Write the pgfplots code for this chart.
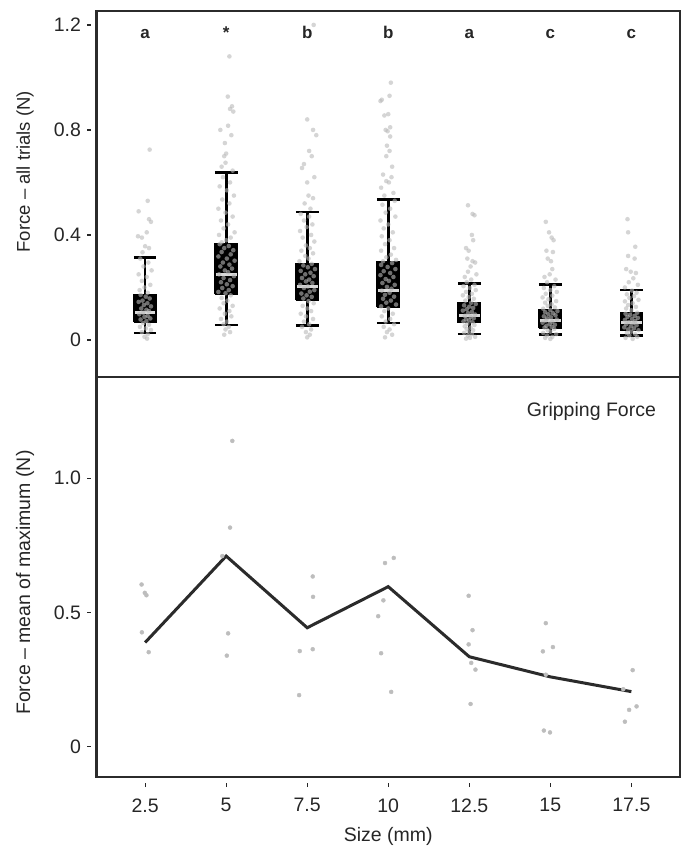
\documentclass[border=0pt]{standalone}
\usepackage{fontspec}
\setmainfont{Liberation Sans}
\usepackage{pgfplots}
\pgfplotsset{compat=1.18}
\definecolor{frame}{HTML}{2B2B2B}
\definecolor{txt}{HTML}{262626}
\definecolor{ptc}{HTML}{BDBDBD}
\definecolor{jit}{HTML}{B9B9B9}
\definecolor{med}{HTML}{D9D9D9}
\newcommand\fs{\fontsize{19.5}{23}\selectfont}
\newcommand\fb{\bfseries\fontsize{17}{20}\selectfont}

\pgfplotsset{
  common/.style={
    scale only axis, width=583.5pt,
    xmin=1, xmax=19,
    axis line style={frame, line width=2.8pt},
    tick align=outside, major tick length=4pt,
    ytick pos=left,
    y tick style={draw=txt, line width=1.2pt, xshift=-5.5pt},
    x tick style={draw=txt, line width=1.2pt, yshift=-6pt},
    yticklabel style={font=\fs, text=txt, xshift=-8pt},
    xticklabel style={font=\fs, text=txt, yshift=-14pt},
    ylabel style={font=\fs, text=txt, anchor=center},
    xlabel style={font=\fs, text=txt},
    unbounded coords=jump,
  },
  wsk/.style={draw=black, line width=2.7pt, mark=none},
  bxs/.style={draw=black, fill=black, line width=1pt, mark=none},
  mdn/.style={draw=med, line width=3pt, mark=none},
  jt/.style={only marks, mark=*, mark size=2.3pt,
    mark options={draw=jit, fill=jit, fill opacity=0.6, draw opacity=0}},
}

\begin{document}
\begin{tikzpicture}[x=1pt,y=1pt]
\path[use as bounding box] (0,0) rectangle (683,846);

\begin{axis}[common,
  at={(96.5pt,469pt)}, anchor=south west, height=366pt,
  ymin=-0.141, ymax=1.253,
  xtick=\empty,
  ytick={0,0.4,0.8,1.2}, yticklabels={0,0.4,0.8,1.2},
  ylabel={Force – all trials (N)},
  ylabel style={font=\fontsize{18.5}{22}\selectfont, at={(axis description cs:-0.1225,0.561)}},
]
% boxplots: whiskers, boxes, medians
\addplot[wsk] coordinates {(2.5,0.027)(2.5,0.315)(2.5,nan)(2.15,0.027)(2.85,0.027)(2.5,nan)(2.15,0.315)(2.85,0.315)};
\addplot[bxs] coordinates {(2.15,0.068)(2.85,0.068)(2.85,0.175)(2.15,0.175)(2.15,0.068)};
\addplot[mdn] coordinates {(2.18,0.106)(2.82,0.106)};

\addplot[wsk] coordinates {(5,0.057)(5,0.637)(5,nan)(4.65,0.057)(5.35,0.057)(5,nan)(4.65,0.637)(5.35,0.637)};
\addplot[bxs] coordinates {(4.65,0.175)(5.35,0.175)(5.35,0.368)(4.65,0.368)(4.65,0.175)};
\addplot[mdn] coordinates {(4.68,0.25)(5.32,0.25)};

\addplot[wsk] coordinates {(7.5,0.054)(7.5,0.487)(7.5,nan)(7.15,0.054)(7.85,0.054)(7.5,nan)(7.15,0.487)(7.85,0.487)};
\addplot[bxs] coordinates {(7.15,0.152)(7.85,0.152)(7.85,0.292)(7.15,0.292)(7.15,0.152)};
\addplot[mdn] coordinates {(7.18,0.203)(7.82,0.203)};

\addplot[wsk] coordinates {(10,0.065)(10,0.535)(10,nan)(9.65,0.065)(10.35,0.065)(10,nan)(9.65,0.535)(10.35,0.535)};
\addplot[bxs] coordinates {(9.65,0.125)(10.35,0.125)(10.35,0.297)(9.65,0.297)(9.65,0.125)};
\addplot[mdn] coordinates {(9.68,0.19)(10.32,0.19)};

\addplot[wsk] coordinates {(12.5,0.023)(12.5,0.214)(12.5,nan)(12.15,0.023)(12.85,0.023)(12.5,nan)(12.15,0.214)(12.85,0.214)};
\addplot[bxs] coordinates {(12.15,0.065)(12.85,0.065)(12.85,0.144)(12.15,0.144)(12.15,0.065)};
\addplot[mdn] coordinates {(12.18,0.095)(12.82,0.095)};

\addplot[wsk] coordinates {(15,0.02)(15,0.21)(15,nan)(14.65,0.02)(15.35,0.02)(15,nan)(14.65,0.21)(15.35,0.21)};
\addplot[bxs] coordinates {(14.65,0.045)(15.35,0.045)(15.35,0.116)(14.65,0.116)(14.65,0.045)};
\addplot[mdn] coordinates {(14.68,0.076)(15.32,0.076)};

\addplot[wsk] coordinates {(17.5,0.018)(17.5,0.19)(17.5,nan)(17.15,0.018)(17.85,0.018)(17.5,nan)(17.15,0.19)(17.85,0.19)};
\addplot[bxs] coordinates {(17.15,0.035)(17.85,0.035)(17.85,0.106)(17.15,0.106)(17.15,0.035)};
\addplot[mdn] coordinates {(17.18,0.066)(17.82,0.066)};

% group 2.5
\addplot[jt] table {
2.64 0.725
2.58 0.53
2.30 0.49
2.62 0.46
2.68 0.45
2.55 0.41
2.28 0.395
2.40 0.39
2.50 0.357
2.62 0.35
2.42 0.334
2.35 0.31
2.60 0.295
2.45 0.28
2.70 0.265
2.30 0.25
2.55 0.24
2.40 0.225
2.66 0.21
2.48 0.20
2.33 0.19
2.58 0.18
2.36 0.172
2.52 0.165
2.64 0.158
2.42 0.15
2.30 0.145
2.57 0.14
2.46 0.133
2.68 0.128
2.38 0.12
2.54 0.115
2.62 0.11
2.44 0.104
2.32 0.098
2.58 0.092
2.48 0.088
2.66 0.082
2.36 0.078
2.54 0.072
2.44 0.064
2.62 0.058
2.34 0.05
2.52 0.044
2.68 0.038
2.40 0.03
2.58 0.022
2.48 0.012
2.56 0.005
};
% group 5
\addplot[jt] table {
5.10 1.08
5.05 0.927
5.18 0.89
5.12 0.88
5.22 0.87
4.82 0.80
5.06 0.816
5.16 0.78
4.96 0.75
5.00 0.71
4.94 0.70
4.98 0.675
4.86 0.66
5.20 0.645
4.90 0.62
5.12 0.60
4.80 0.585
5.02 0.57
5.24 0.55
4.88 0.535
5.10 0.52
4.76 0.50
4.98 0.485
5.20 0.47
4.84 0.455
5.06 0.44
4.92 0.425
5.26 0.41
4.78 0.40
5.14 0.39
5.00 0.38
4.86 0.372
4.80 0.365
5.08 0.358
4.94 0.35
5.22 0.342
4.86 0.335
5.14 0.326
4.76 0.318
5.02 0.31
5.26 0.302
4.90 0.295
5.10 0.287
4.82 0.28
5.18 0.272
4.96 0.265
5.06 0.258
4.78 0.25
5.24 0.243
4.92 0.236
5.12 0.228
4.84 0.22
5.02 0.212
5.20 0.205
4.88 0.198
5.08 0.19
4.76 0.183
4.98 0.178
5.14 0.17
4.86 0.16
5.04 0.15
4.92 0.14
5.20 0.13
4.80 0.12
5.10 0.11
4.96 0.10
5.16 0.09
4.84 0.08
5.02 0.07
4.92 0.06
5.08 0.05
4.98 0.04
5.12 0.03
4.94 0.02
};
% group 7.5
\addplot[jt] table {
7.70 1.20
7.50 0.84
7.68 0.80
7.78 0.78
7.56 0.72
7.64 0.70
7.40 0.67
7.34 0.655
7.72 0.62
7.50 0.60
7.54 0.55
7.68 0.54
7.42 0.52
7.60 0.50
7.30 0.48
7.56 0.47
7.40 0.455
7.66 0.44
7.48 0.43
7.28 0.415
7.62 0.40
7.36 0.39
7.72 0.375
7.46 0.36
7.58 0.35
7.32 0.34
7.68 0.33
7.44 0.32
7.54 0.31
7.26 0.30
7.64 0.29
7.38 0.284
7.52 0.277
7.74 0.27
7.30 0.263
7.60 0.256
7.44 0.25
7.70 0.243
7.34 0.236
7.56 0.23
7.46 0.223
7.66 0.217
7.28 0.21
7.52 0.204
7.40 0.198
7.72 0.19
7.58 0.184
7.32 0.177
7.48 0.17
7.64 0.164
7.38 0.158
7.54 0.148
7.70 0.14
7.36 0.13
7.50 0.12
7.62 0.11
7.30 0.10
7.46 0.09
7.68 0.08
7.40 0.07
7.56 0.06
7.34 0.05
7.62 0.04
7.46 0.03
7.58 0.02
7.50 0.01
};
% group 10
\addplot[jt] table {
10.08 0.98
10.04 0.93
9.80 0.915
9.76 0.91
10.00 0.86
9.88 0.855
10.06 0.81
9.92 0.80
9.98 0.795
10.06 0.775
9.96 0.74
10.04 0.72
9.94 0.70
10.12 0.66
9.84 0.63
10.10 0.62
9.94 0.605
10.02 0.60
9.78 0.58
10.16 0.56
9.88 0.55
10.20 0.53
9.82 0.515
10.06 0.50
9.92 0.485
10.22 0.47
9.76 0.455
10.00 0.44
9.86 0.425
10.14 0.41
9.80 0.395
10.04 0.38
9.90 0.365
10.18 0.35
9.78 0.34
10.08 0.325
9.94 0.315
10.24 0.305
9.84 0.30
10.12 0.293
9.78 0.286
9.98 0.278
10.22 0.27
9.86 0.262
10.06 0.255
9.76 0.247
10.16 0.24
9.92 0.232
10.02 0.225
9.82 0.217
10.20 0.21
9.96 0.202
10.10 0.195
9.80 0.188
10.04 0.18
9.90 0.172
10.18 0.165
9.84 0.157
10.08 0.15
9.94 0.142
10.24 0.135
9.78 0.128
10.00 0.12
9.88 0.11
10.14 0.10
9.80 0.09
10.06 0.08
9.92 0.07
10.18 0.06
9.86 0.05
10.04 0.04
9.96 0.03
10.12 0.02
9.90 0.01
};
% group 12.5
\addplot[jt] table {
12.46 0.513
12.60 0.48
12.66 0.475
12.58 0.40
12.62 0.38
12.40 0.35
12.48 0.34
12.44 0.31
12.60 0.30
12.68 0.295
12.54 0.28
12.46 0.26
12.72 0.25
12.36 0.24
12.56 0.23
12.42 0.22
12.66 0.21
12.32 0.205
12.52 0.198
12.70 0.19
12.40 0.183
12.58 0.176
12.30 0.17
12.48 0.163
12.64 0.157
12.38 0.15
12.56 0.142
12.70 0.137
12.34 0.132
12.50 0.127
12.62 0.122
12.42 0.117
12.30 0.112
12.58 0.107
12.46 0.102
12.68 0.097
12.36 0.092
12.54 0.088
12.64 0.083
12.40 0.079
12.50 0.075
12.32 0.071
12.60 0.067
12.44 0.062
12.66 0.057
12.36 0.052
12.54 0.047
12.42 0.042
12.62 0.037
12.48 0.032
12.34 0.027
12.58 0.022
12.46 0.017
12.68 0.012
12.52 0.008
12.40 0.005
};
% group 15
\addplot[jt] table {
14.86 0.45
14.96 0.41
15.04 0.39
15.10 0.38
14.88 0.34
15.08 0.335
14.92 0.31
15.02 0.30
15.06 0.27
14.98 0.25
14.82 0.24
15.16 0.23
14.90 0.22
15.12 0.205
14.80 0.198
15.00 0.19
15.20 0.183
14.86 0.176
15.06 0.169
14.76 0.162
14.94 0.155
15.18 0.148
14.84 0.142
15.04 0.136
14.92 0.13
15.14 0.124
14.78 0.119
15.00 0.114
15.22 0.11
14.84 0.106
15.08 0.102
14.94 0.098
15.16 0.094
14.80 0.09
15.02 0.086
14.90 0.082
15.20 0.078
14.86 0.074
15.06 0.07
14.76 0.066
14.98 0.062
15.14 0.058
14.88 0.054
15.04 0.05
14.82 0.047
15.12 0.042
14.92 0.037
15.00 0.032
14.78 0.027
15.18 0.022
14.90 0.017
15.06 0.012
14.84 0.008
15.00 0.004
};
% group 17.5
\addplot[jt] table {
17.38 0.46
17.40 0.41
17.62 0.355
17.40 0.32
17.60 0.31
17.34 0.27
17.48 0.26
17.64 0.255
17.56 0.235
17.42 0.22
17.70 0.21
17.30 0.20
17.52 0.188
17.66 0.18
17.36 0.174
17.58 0.167
17.44 0.16
17.72 0.153
17.30 0.147
17.54 0.14
17.40 0.133
17.64 0.126
17.34 0.12
17.50 0.113
17.68 0.104
17.32 0.1
17.46 0.096
17.60 0.092
17.38 0.088
17.70 0.084
17.52 0.08
17.30 0.076
17.62 0.072
17.42 0.068
17.56 0.064
17.34 0.06
17.66 0.056
17.48 0.052
17.28 0.048
17.58 0.044
17.40 0.04
17.72 0.037
17.50 0.032
17.36 0.027
17.62 0.022
17.44 0.017
17.68 0.012
17.32 0.008
17.54 0.004
};

\node[font=\fb, text=txt, anchor=base] at (axis cs:2.5,1.147) {a};
\node[font=\fb, text=txt, anchor=base] at (axis cs:5,1.147) {*};
\node[font=\fb, text=txt, anchor=base] at (axis cs:7.5,1.147) {b};
\node[font=\fb, text=txt, anchor=base] at (axis cs:10,1.147) {b};
\node[font=\fb, text=txt, anchor=base] at (axis cs:12.5,1.147) {a};
\node[font=\fb, text=txt, anchor=base] at (axis cs:15,1.147) {c};
\node[font=\fb, text=txt, anchor=base] at (axis cs:17.5,1.147) {c};
\end{axis}

\begin{axis}[common,
  at={(96.5pt,69pt)}, anchor=south west, height=400pt,
  ymin=-0.113, ymax=1.377,
  xtick={2.5,5,7.5,10,12.5,15,17.5},
  xticklabels={2.5,5,7.5,10,12.5,15,17.5},
  xtick pos=bottom,
  ytick={0,0.5,1}, yticklabels={0,0.5,1.0},
  ylabel={Force – mean of maximum (N)},
  ylabel style={at={(axis description cs:-0.1225,0.486)}},
  xlabel={Size (mm)},
  xlabel style={at={(axis description cs:0.5,-0.16)}, anchor=base},
]
\addplot[only marks, mark=*, mark size=2pt, mark options={draw=ptc, fill=ptc}] table {
2.39 0.604
2.49 0.573
2.54 0.564
2.40 0.426
2.61 0.352
5.19 1.139
5.12 0.816
4.88 0.71
5.06 0.422
5.02 0.339
7.67 0.634
7.68 0.558
7.27 0.356
7.67 0.363
7.25 0.192
9.90 0.684
10.17 0.703
9.85 0.545
9.69 0.486
9.78 0.348
10.09 0.204
12.48 0.562
12.60 0.434
12.48 0.381
12.56 0.312
12.69 0.287
12.54 0.159
14.86 0.46
14.77 0.355
15.08 0.371
14.86 0.268
14.80 0.06
14.99 0.053
17.54 0.285
17.25 0.214
17.66 0.15
17.43 0.137
17.30 0.093
};
\addplot[line width=3pt, color=frame, mark=none] coordinates {
(2.5,0.388) (5,0.71) (7.5,0.443) (10,0.596) (12.5,0.335) (15,0.26) (17.5,0.205)
};
\node[font=\fs, text=txt, anchor=north east, inner sep=0pt] at (axis description cs:0.959,0.9375) {Gripping Force};
\end{axis}
\end{tikzpicture}
\end{document}
